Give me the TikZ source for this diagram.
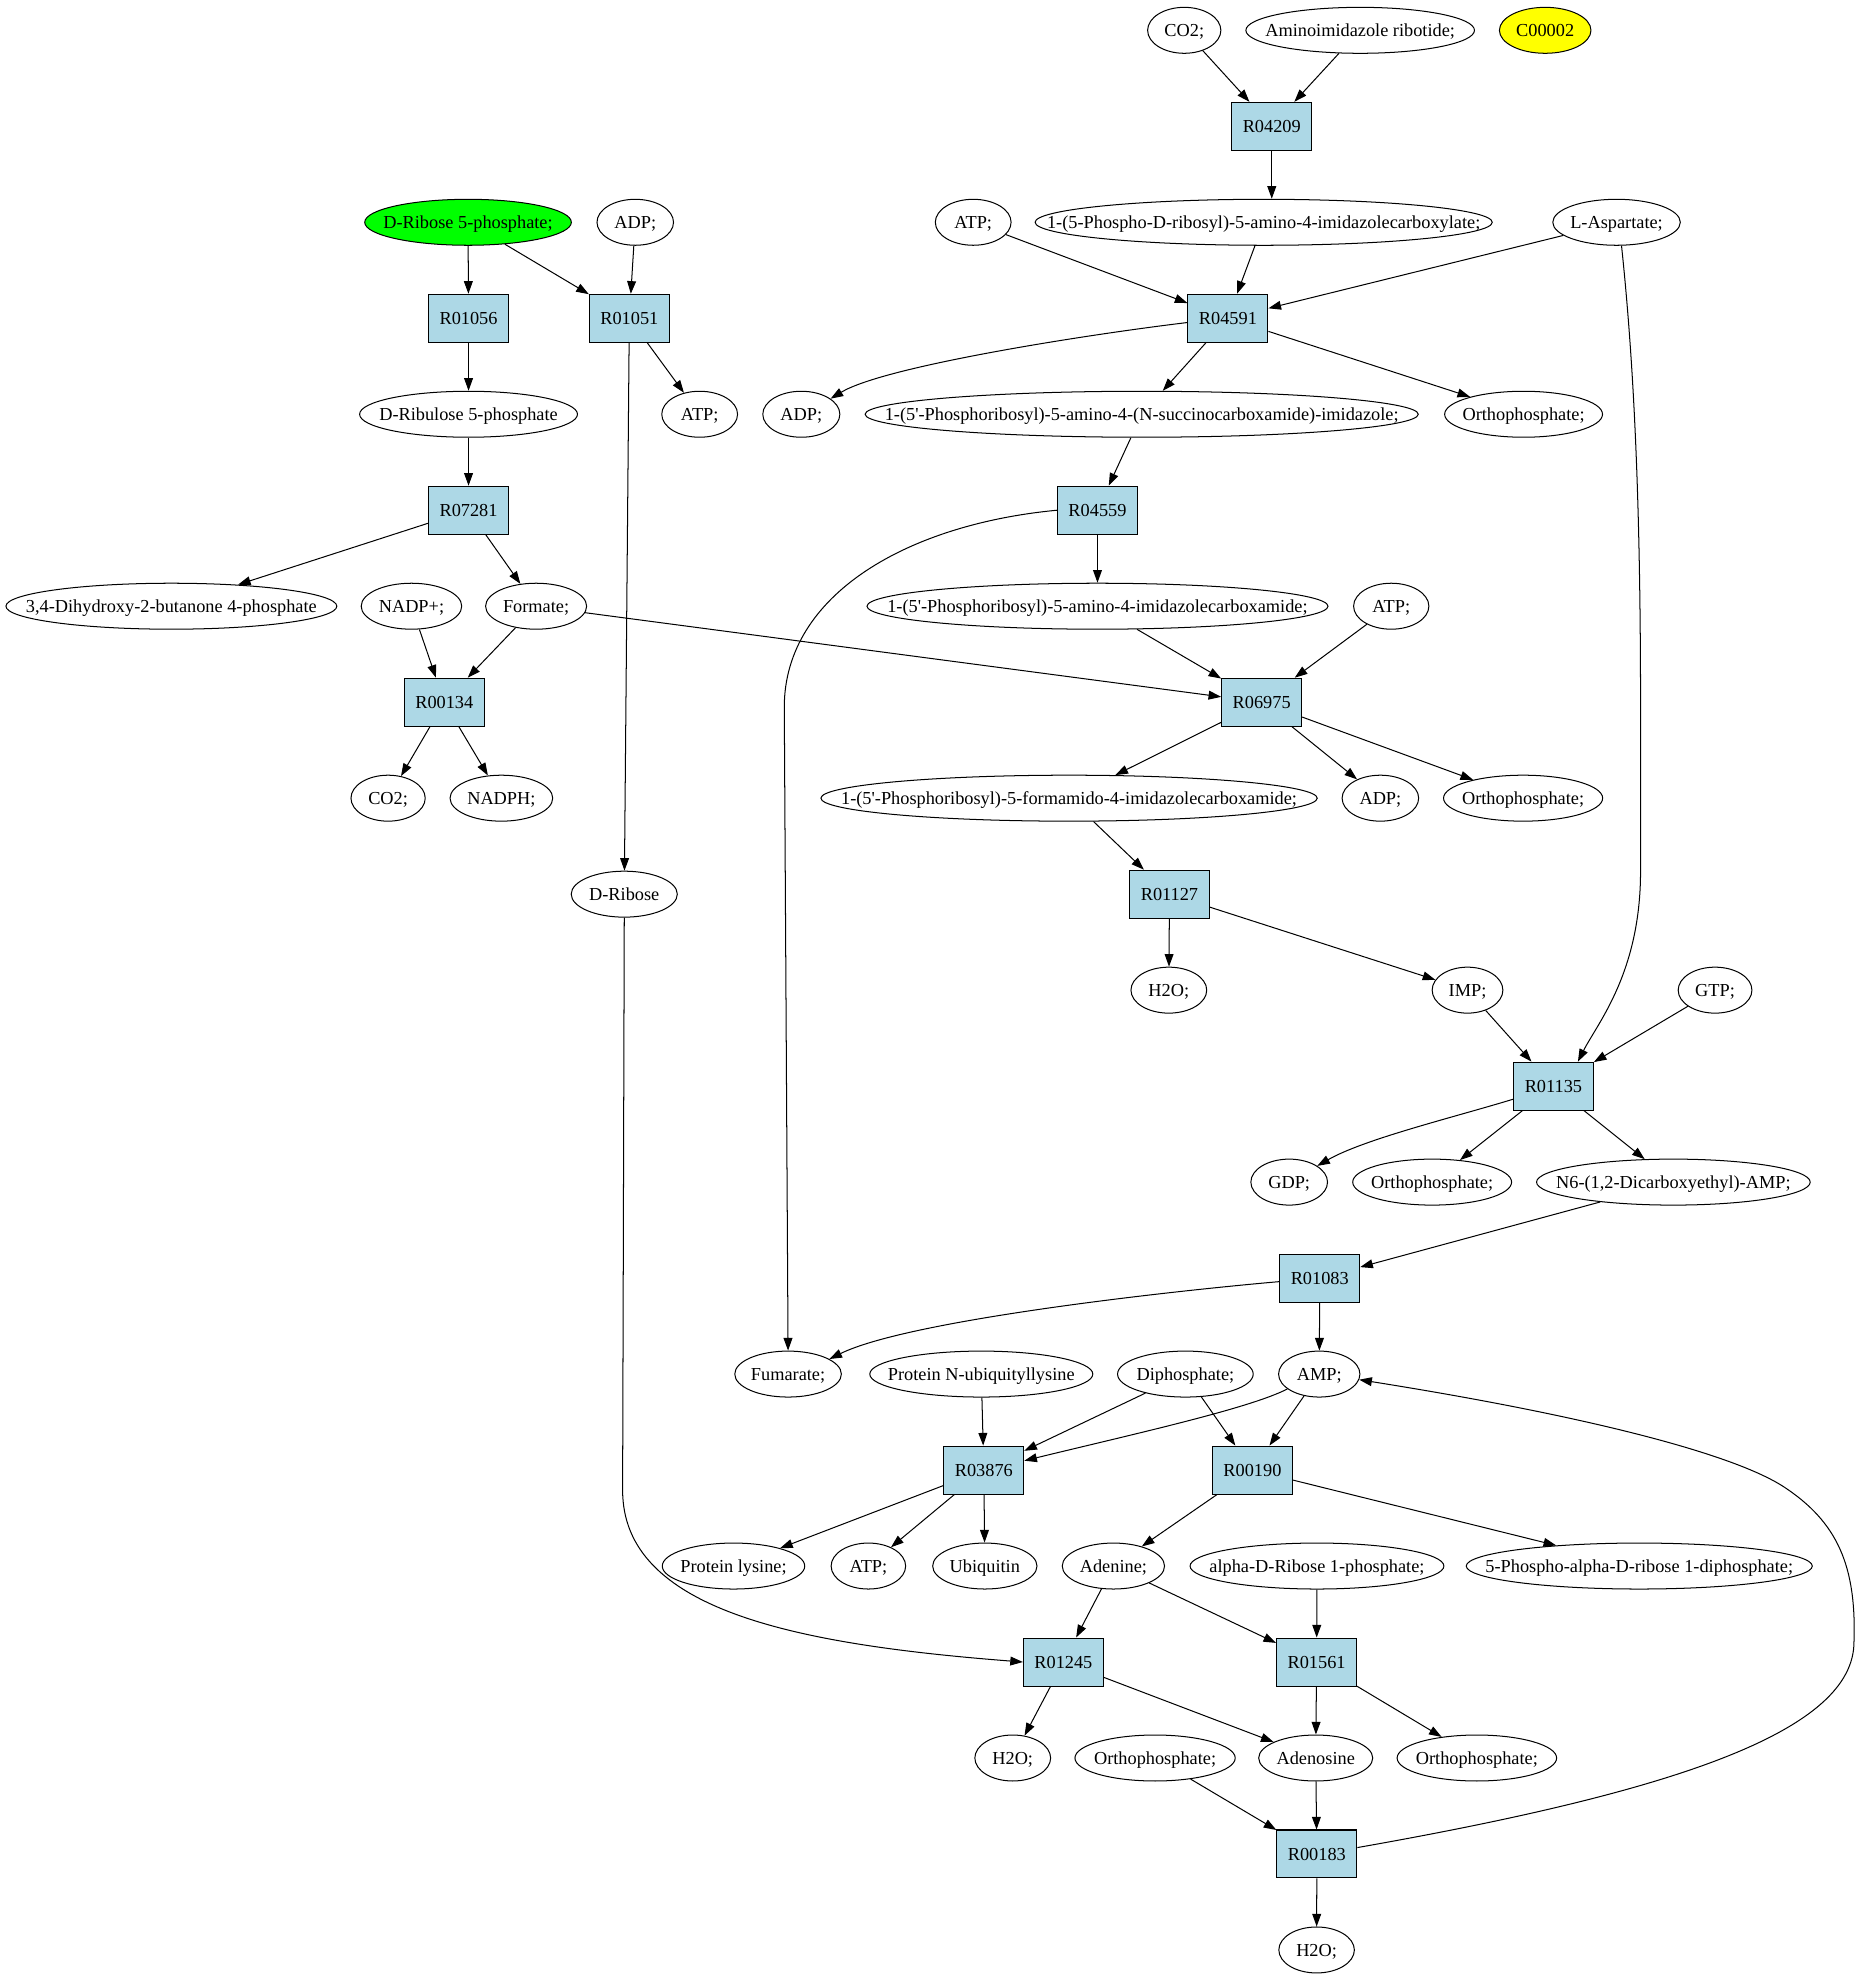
\documentclass[tikz,border=0pt]{standalone}
\usepackage{fontspec}
\setmainfont{Liberation Serif}[Ligatures=TeXOff]
\usetikzlibrary{arrows.meta,shapes.geometric}
\definecolor{rxnblue}{HTML}{ADD8E6}
\definecolor{mgreen}{HTML}{00FF00}
\definecolor{myellow}{HTML}{FFFF00}
\newcommand\mt[1]{\makebox[0pt]{#1}}
\begin{document}
\begin{tikzpicture}[x=1pt,y=-1pt,
  font=\fontsize{14.5}{17}\selectfont,
  rxn/.style={draw, line width=0.8pt, fill=rxnblue, minimum width=63.3pt, minimum height=38pt, inner sep=0pt, text height=9.8pt, text depth=0pt},
  met/.style={draw, line width=0.8pt, ellipse, minimum width=#1pt, minimum height=36.4pt, inner sep=0pt, text height=9.8pt, text depth=0pt},
  arr/.style={-{Triangle[length=10pt,width=7pt]}, line width=0.8pt}]
\useasboundingbox (0,0) rectangle (1480,1567);
% row 0
\node[met=58] (co2a) at (937.7,24) {\mt{CO2;}};
\node[met=181] (air) at (1077,24) {\mt{Aminoimidazole ribotide;}};
\node[met=72.5, fill=myellow] (c00002) at (1223.5,24) {\mt{C00002}};
% row 1
\node[rxn] (r04209) at (1007,100) {R04209};
% row 2
\node[met=163.6, fill=mgreen] (dr5p) at (370.6,176) {\mt{D-Ribose 5-phosphate;}};
\node[met=60.6] (adp1) at (503,176) {\mt{ADP;}};
\node[met=60] (atp1) at (770.6,176) {\mt{ATP;}};
\node[met=362] (carbox) at (1000.6,176) {\mt{1-(5-Phospho-D-ribosyl)-5-amino-4-imidazolecarboxylate;}};
\node[met=101] (lasp) at (1280,176) {\mt{L-Aspartate;}};
% row 3
\node[rxn] (r01056) at (371,252) {R01056};
\node[rxn] (r01051) at (498.3,252) {R01051};
\node[rxn] (r04591) at (972.3,252) {R04591};
% row 4
\node[met=172.5] (drul) at (371,328) {\mt{D-Ribulose 5-phosphate}};
\node[met=60] (atp2) at (554,328) {\mt{ATP;}};
\node[met=61] (adp2) at (634.5,328) {\mt{ADP;}};
\node[met=438] (succ) at (904,328) {\mt{1-(5'-Phosphoribosyl)-5-amino-4-(N-succinocarboxamide)-imidazole;}};
\node[met=125] (orth1) at (1206.4,328) {\mt{Orthophosphate;}};
% row 5
\node[rxn] (r07281) at (371,404) {R07281};
\node[rxn] (r04559) at (869,404) {R04559};
% row 6
\node[met=262] (dihyd) at (135.7,480) {\mt{3,4-Dihydroxy-2-butanone 4-phosphate}};
\node[met=79.6] (nadp) at (325.8,480) {\mt{NADP+;}};
\node[met=80] (form) at (424.5,480) {\mt{Formate;}};
\node[met=365] (caram) at (869,480) {\mt{1-(5'-Phosphoribosyl)-5-amino-4-imidazolecarboxamide;}};
\node[met=59.6] (atp3) at (1101.6,480) {\mt{ATP;}};
% row 7
\node[rxn] (r00134) at (351.8,556) {R00134};
\node[rxn] (r06975) at (999,556) {R06975};
% row 8
\node[met=58.8] (co2b) at (307.3,632) {\mt{CO2;}};
\node[met=81.3] (nadph) at (397,632) {\mt{NADPH;}};
\node[met=393] (fcar) at (846.5,632) {\mt{1-(5'-Phosphoribosyl)-5-formamido-4-imidazolecarboxamide;}};
\node[met=60.6] (adp3) at (1093,632) {\mt{ADP;}};
\node[met=126] (orth2) at (1206,632) {\mt{Orthophosphate;}};
% row 9
\node[met=84] (drib) at (494.3,708) {\mt{D-Ribose}};
\node[rxn] (r01127) at (926,708) {R01127};
% row 10
\node[met=60] (h2oa) at (925.5,784) {\mt{H2O;}};
\node[met=56] (imp) at (1162,784) {\mt{IMP;}};
\node[met=58.4] (gtp) at (1358,784) {\mt{GTP;}};
% row 11
\node[rxn] (r01135) at (1230,860) {R01135};
% row 12
\node[met=60.7] (gdp) at (1020.8,936) {\mt{GDP;}};
\node[met=125.8] (orth3) at (1134,936) {\mt{Orthophosphate;}};
\node[met=216.7] (n6) at (1325,936) {\mt{N6-(1,2-Dicarboxyethyl)-AMP;}};
% row 13
\node[rxn] (r01083) at (1045,1012) {R01083};
% row 14
\node[met=84.4] (fum) at (624,1088) {\mt{Fumarate;}};
\node[met=176.6] (pnub) at (777,1088) {\mt{Protein N-ubiquityllysine}};
\node[met=107.4] (diph) at (938.6,1088) {\mt{Diphosphate;}};
\node[met=64.4] (amp) at (1044.6,1088) {\mt{AMP;}};
% row 15
\node[rxn] (r03876) at (779,1164) {R03876};
\node[rxn] (r00190) at (991.7,1164) {R00190};
% row 16
\node[met=112.8] (plys) at (580.8,1240) {\mt{Protein lysine;}};
\node[met=59] (atp4) at (687.6,1240) {\mt{ATP;}};
\node[met=82.6] (ubq) at (779.8,1240) {\mt{Ubiquitin}};
\node[met=81] (ade) at (881.6,1240) {\mt{Adenine;}};
\node[met=201] (ar1p) at (1042.8,1240) {\mt{alpha-D-Ribose 1-phosphate;}};
\node[met=274] (prpp) at (1298,1240) {\mt{5-Phospho-alpha-D-ribose 1-diphosphate;}};
% row 17
\node[rxn] (r01245) at (842,1316) {R01245};
\node[rxn] (r01561) at (1042.5,1316) {R01561};
% row 18
\node[met=60] (h2ob) at (801.9,1392) {\mt{H2O;}};
\node[met=126.9] (orth4) at (914.6,1392) {\mt{Orthophosphate;}};
\node[met=90.3] (adeno) at (1041.8,1392) {\mt{Adenosine}};
\node[met=126.3] (orth5) at (1169.4,1392) {\mt{Orthophosphate;}};
% row 19-20
\node[rxn] (r00183) at (1042.7,1468) {R00183};
\node[met=59.8] (h2oc) at (1042.5,1544) {\mt{H2O;}};

% straight connectors
\foreach \a/\b in {co2a/r04209, air/r04209, dr5p/r01056, dr5p/r01051, adp1/r01051,
  r01056/drul, r01051/atp2, r01051/drib, atp1/r04591, carbox/r04591, lasp/r04591,
  r04591/succ, r04591/orth1, drul/r07281, succ/r04559, r04559/caram, r07281/dihyd,
  r07281/form, nadp/r00134, form/r00134, form/r06975, caram/r06975, atp3/r06975,
  r00134/co2b, r00134/nadph, r06975/fcar, r06975/adp3, r06975/orth2, fcar/r01127,
  r01127/h2oa, r01127/imp, imp/r01135, gtp/r01135, r01135/orth3, r01135/n6,
  n6/r01083, r01083/amp, pnub/r03876, diph/r03876, diph/r00190, amp/r00190,
  r03876/plys, r03876/atp4, r03876/ubq, r00190/ade, r00190/prpp, ade/r01245,
  ade/r01561, ar1p/r01561, r01245/h2ob, r01245/adeno, r01561/adeno, r01561/orth5,
  orth4/r00183, adeno/r00183, r00183/h2oc}
  \draw[arr] (\a) -- (\b);
\draw[arr] (r04209) -- (r04209 |- carbox.north);
% curved connectors
\draw[arr] (r04591.186) .. controls (860,265) and (700,290) .. (adp2.28);
\draw[arr] (r04559.west) .. controls (720,415) and (621,470) .. (621,560) -- (fum.north);
\draw[arr] (lasp.-78) .. controls (1294,290) and (1299,400) .. (1299,560) -- (1299,690)
  .. controls (1299,770) and (1265,810) .. (r01135.45);
\draw[arr] (r01135.198) .. controls (1150,885) and (1080,902) .. (gdp.30);
\draw[arr] (r01083.185) .. controls (930,1022) and (720,1045) .. (fum.20);
\draw[arr] (amp.205) .. controls (990,1115) and (900,1135) .. (r03876.13);
\draw[arr] (drib.south) -- (493,1180) .. controls (493,1275) and (630,1302) .. (r01245.west);
\draw[arr] (r00183.9) .. controls (1330,1418) and (1468,1370) .. (1468,1300)
  .. controls (1470,1240) and (1455,1205) .. (1412,1177)
  .. controls (1370,1150) and (1250,1120) .. (amp.-8);
\end{tikzpicture}
\end{document}
